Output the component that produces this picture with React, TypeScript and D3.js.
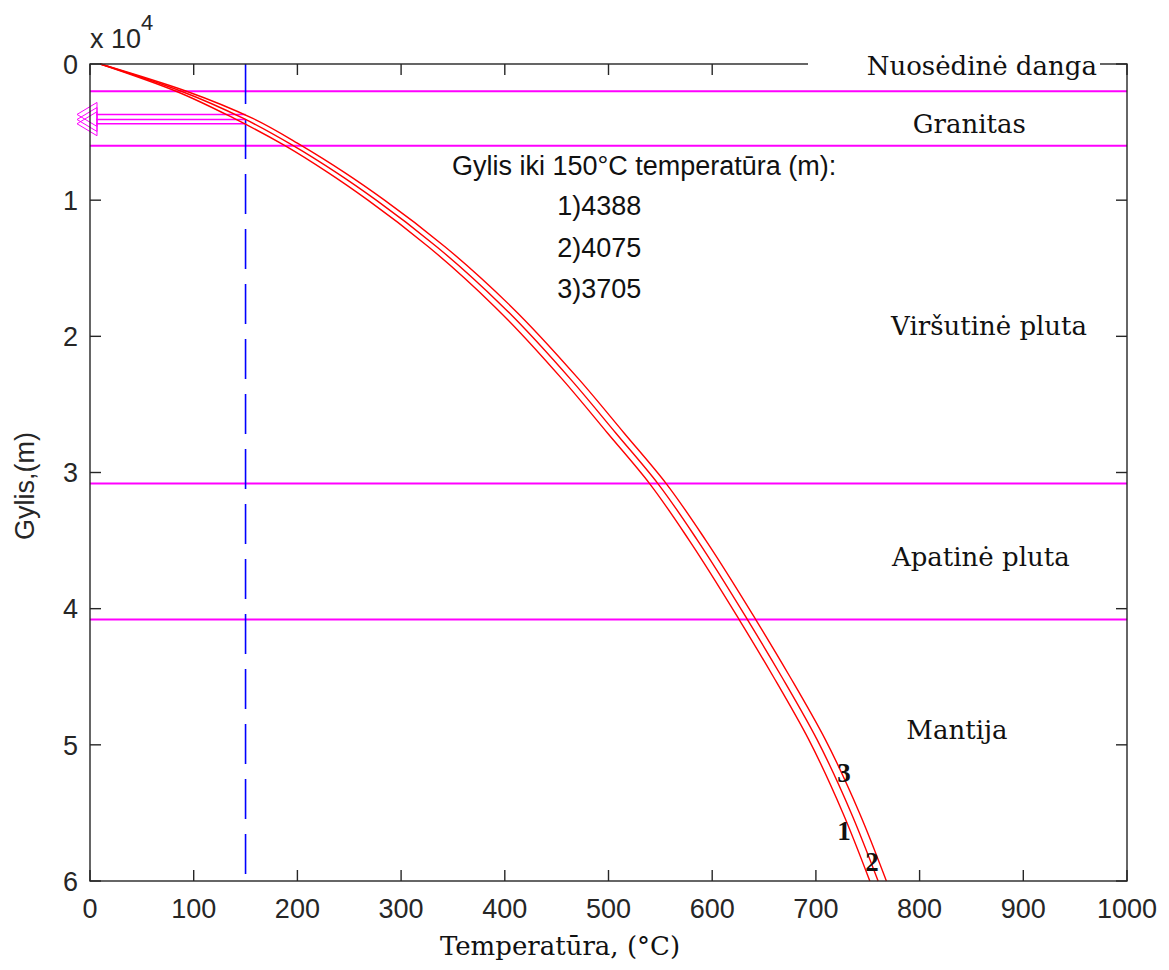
import { useEffect, useRef } from 'react'
import * as d3 from 'd3'

const X_TICKS = [0, 100, 200, 300, 400, 500, 600, 700, 800, 900, 1000]
const Y_TICKS = [0, 1, 2, 3, 4, 5, 6]

// depth in units of 10^4 m
const DEPTH = [0, 0.2, 0.4, 0.6, 0.8, 1.0, 1.34, 1.78, 2.32, 2.71, 3.085, 3.5, 4.08, 4.5, 4.96, 5.5, 6.0]
const TEMP_1 = [10, 83, 139, 188, 230, 268, 326, 390, 456, 499, 540, 578, 626, 659, 693, 726, 752]
const TEMP_2 = [10, 88, 148, 196, 238, 276, 334, 398, 464, 507, 548, 586, 634, 667, 701, 734, 760]
const TEMP_3 = [10, 93, 157, 204, 246, 284, 342, 406, 472, 515, 556, 594, 642, 675, 709, 742, 768]

const LAYER_BOUNDS = [0.2, 0.6, 3.08, 4.08]
const DEPTH_AT_150 = [4388, 4075, 3705]
const TARGET_T = 150

export default function App() {
  const svgRef = useRef<SVGSVGElement>(null)

  useEffect(() => {
    if (!svgRef.current) return
    const W = 1169, H = 970
    const svg = d3.select(svgRef.current).attr('viewBox', `0 0 ${W} ${H}`)
    svg.selectAll('*').remove()

    const x = d3.scaleLinear().domain([0, 1000]).range([90, 1127])
    const y = d3.scaleLinear().domain([0, 6]).range([64, 881])
    const sans = '"Liberation Sans", Arial, sans-serif'
    const serif = '"DejaVu Serif", serif'
    const axisCol = '#262626'

    svg.append('rect').attr('width', W).attr('height', H).attr('fill', 'white')

    // layer boundaries
    svg.selectAll('line.layer').data(LAYER_BOUNDS).join('line')
      .attr('x1', x(0)).attr('x2', x(1000))
      .attr('y1', d => y(d)).attr('y2', d => y(d))
      .attr('stroke', '#ff00ff').attr('stroke-width', 2)

    // 150°C dashed line
    svg.append('line')
      .attr('x1', x(TARGET_T)).attr('x2', x(TARGET_T))
      .attr('y1', y(0)).attr('y2', y(6))
      .attr('stroke', '#0000ff').attr('stroke-width', 1.6)
      .attr('stroke-dasharray', '40,15')

    // arrows from the 150°C line to the depth axis
    DEPTH_AT_150.forEach(dm => {
      const yy = y(dm / 10000)
      svg.append('line')
        .attr('x1', x(TARGET_T)).attr('x2', x(0) + 6)
        .attr('y1', yy).attr('y2', yy)
        .attr('stroke', '#ff00ff').attr('stroke-width', 1.4)
      const bx = x(0) + 7, tx = x(0) - 13
      svg.append('path')
        .attr('d', `M${bx},${yy - 12}L${tx},${yy}L${bx},${yy + 12}Z`)
        .attr('fill', 'none').attr('stroke', '#ff00ff').attr('stroke-width', 1)
    })

    // temperature curves
    const line = d3.line<number>()
      .x(d => x(d))
      .y((_, i) => y(DEPTH[i]))
      .curve(d3.curveMonotoneY)
    ;[TEMP_1, TEMP_2, TEMP_3].forEach(t => {
      svg.append('path').attr('d', line(t) ?? '')
        .attr('fill', 'none').attr('stroke', '#ff0000').attr('stroke-width', 1.4)
    })

    // axes box
    const box = svg.append('g').attr('stroke', axisCol).attr('stroke-width', 1.4).attr('fill', 'none')
    box.append('rect').attr('x', x(0)).attr('y', y(0)).attr('width', x(1000) - x(0)).attr('height', y(6) - y(0))
    const tl = 11
    X_TICKS.forEach(t => {
      box.append('line').attr('x1', x(t)).attr('x2', x(t)).attr('y1', y(6)).attr('y2', y(6) - tl)
      box.append('line').attr('x1', x(t)).attr('x2', x(t)).attr('y1', y(0)).attr('y2', y(0) + tl)
    })
    Y_TICKS.forEach(t => {
      box.append('line').attr('x1', x(0)).attr('x2', x(0) + tl).attr('y1', y(t)).attr('y2', y(t))
      box.append('line').attr('x1', x(1000)).attr('x2', x(1000) - tl).attr('y1', y(t)).attr('y2', y(t))
    })

    // tick labels
    svg.selectAll('text.xt').data(X_TICKS).join('text')
      .attr('x', d => x(d)).attr('y', 918)
      .attr('text-anchor', 'middle').attr('font-family', sans).attr('font-size', 27)
      .attr('fill', axisCol).text(d => d)
    svg.selectAll('text.yt').data(Y_TICKS).join('text')
      .attr('x', x(0) - 12).attr('y', d => y(d)).attr('dy', '0.36em')
      .attr('text-anchor', 'end').attr('font-family', sans).attr('font-size', 27)
      .attr('fill', axisCol).text(d => d)

    const expo = svg.append('text').attr('x', x(0)).attr('y', 48)
      .attr('font-family', sans).attr('font-size', 27).attr('fill', axisCol)
    expo.append('tspan').text('x 10')
    expo.append('tspan').attr('dy', -18).attr('font-size', 22).text('4')

    // axis labels
    svg.append('text').attr('x', 560).attr('y', 955)
      .attr('text-anchor', 'middle').attr('font-family', serif).attr('font-size', 26)
      .attr('fill', '#111').text('Temperatūra, (°C)')
    svg.append('text').attr('transform', `translate(34,${y(3.1)}) rotate(-90)`)
      .attr('text-anchor', 'middle').attr('font-family', sans).attr('font-size', 27)
      .attr('fill', axisCol).text('Gylis,(m)')

    // layer names
    svg.append('rect').attr('x', 808).attr('y', 50).attr('width', 292).attr('height', 28).attr('fill', 'white')
    const ann = (t: string, tx: number, dy: number, anchor = 'middle') =>
      svg.append('text').attr('x', x(tx)).attr('y', y(dy)).attr('text-anchor', anchor)
        .attr('font-family', serif).attr('font-size', 26).attr('fill', '#111').text(t)
    ann('Nuosėdinė danga', 971, 0.081, 'end')
    ann('Granitas', 848, 0.507)
    ann('Viršutinė pluta', 867, 1.99)
    ann('Apatinė pluta', 859, 3.69)
    ann('Mantija', 836, 4.96)

    // depths reaching 150°C
    svg.append('text').attr('x', x(349)).attr('y', y(0.815))
      .attr('font-family', sans).attr('font-size', 27).attr('fill', '#111')
      .text('Gylis iki 150°C temperatūra (m):')
    DEPTH_AT_150.forEach((d, i) => {
      svg.append('text').attr('x', x(491)).attr('y', y(1.109 + i * 0.305))
        .attr('text-anchor', 'middle').attr('font-family', sans).attr('font-size', 27)
        .attr('fill', '#111').text(`${i + 1})${d}`)
    })

    // curve labels
    const cl = (t: string, tx: number, dy: number) =>
      svg.append('text').attr('x', x(tx)).attr('y', y(dy)).attr('text-anchor', 'middle')
        .attr('font-family', '"Liberation Serif", serif').attr('font-weight', 'bold')
        .attr('font-size', 27).attr('fill', '#111').text(t)
    cl('3', 727, 5.27)
    cl('1', 727, 5.70)
    cl('2', 754, 5.925)
  }, [])

  return (
    <svg ref={svgRef} width={1169} height={970}
      style={{ position: 'absolute', left: 0, top: 0, display: 'block' }} />
  )
}
